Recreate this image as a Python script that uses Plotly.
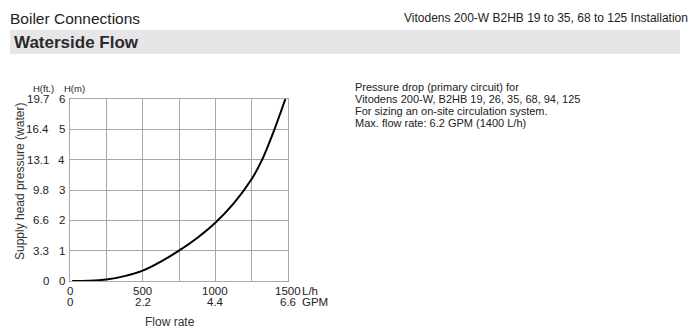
import plotly.graph_objects as go

# Data
flow_lh = [15, 130, 250, 375, 500, 625, 750, 875, 1000, 1125, 1250, 1322, 1407, 1482]
head_m = [0.0, 0.01, 0.05, 0.16, 0.34, 0.64, 1.0, 1.42, 1.92, 2.55, 3.36, 4.0, 5.0, 6.0]

x_ticks = [0, 500, 1000, 1500]
x_tick_lh = ["0", "500", "1000", "1500"]
x_tick_gpm = ["0", "2.2", "4.4", "6.6"]
y_ticks = [0, 1, 2, 3, 4, 5, 6]
y_tick_m = ["0", "1", "2", "3", "4", "5", "6"]
y_tick_ft = ["0", "3.3", "6.6", "9.8", "13.1", "16.4", "19.7"]

note_lines = [
    "Pressure drop (primary circuit) for",
    "Vitodens 200-W, B2HB 19, 26, 35, 68, 94, 125",
    "For sizing an on-site circulation system.",
    "Max. flow rate: 6.2 GPM (1400 L/h)",
]

FONT = "Liberation Sans, Arial, sans-serif"
TXT = "#222222"
GRID = "#a8a8a8"

W, H = 699, 335
PL, PR, PT, PB = 70, 288, 99, 281  # plot area in pixels
PW, PH = PR - PL, PB - PT


def px(x):
    return (x - PL) / PW


def py(y):
    return (PB - y) / PH


fig = go.Figure()
fig.add_trace(go.Scatter(x=flow_lh, y=head_m, mode="lines",
                         line=dict(color="black", width=2, shape="spline", smoothing=0.8),
                         hoverinfo="skip", showlegend=False))

fig.update_layout(
    width=W, height=H, autosize=False,
    margin=dict(l=PL, r=W - PR, t=PT, b=H - PB, pad=0),
    paper_bgcolor="white", plot_bgcolor="white",
    font=dict(family=FONT, color=TXT, size=11),
    showlegend=False,
    xaxis=dict(range=[0, 1500], dtick=250, tick0=0, showgrid=True, gridcolor=GRID, gridwidth=1,
               showline=True, linecolor=GRID, linewidth=1, mirror=True,
               showticklabels=False, ticks="", zeroline=False, fixedrange=True),
    yaxis=dict(range=[0, 6], dtick=1, tick0=0, showgrid=True, gridcolor=GRID, gridwidth=1,
               showline=True, linecolor=GRID, linewidth=1, mirror=True,
               showticklabels=False, ticks="", zeroline=False, fixedrange=True),
)

ann = []
# x tick labels (two rows)
for v, a, b in zip(x_ticks, x_tick_lh, x_tick_gpm):
    ann.append(dict(x=v, y=0, xref="x", yref="paper", text=a, showarrow=False,
                    xanchor="center", yanchor="middle", yshift=-10, font=dict(size=11.5, color=TXT)))
    ann.append(dict(x=v, y=0, xref="x", yref="paper", text=b, showarrow=False,
                    xanchor="center", yanchor="middle", yshift=-21, font=dict(size=11.5, color=TXT)))
ann.append(dict(x=1500, y=0, xref="x", yref="paper", text="L/h", showarrow=False,
                xanchor="left", yanchor="middle", xshift=12, yshift=-10, font=dict(size=11.5, color=TXT)))
ann.append(dict(x=1500, y=0, xref="x", yref="paper", text="GPM", showarrow=False,
                xanchor="left", yanchor="middle", xshift=12, yshift=-21, font=dict(size=11.5, color=TXT)))
ann.append(dict(x=px(170), y=py(322), xref="paper", yref="paper", text="Flow rate", showarrow=False,
                xanchor="center", yanchor="middle", font=dict(size=12, color="#333333")))

# y tick labels (two columns)
for v, m, ft in zip(y_ticks, y_tick_m, y_tick_ft):
    ann.append(dict(x=0, y=v, xref="paper", yref="y", text=m, showarrow=False,
                    xanchor="right", yanchor="middle", xshift=-3, font=dict(size=11.5, color=TXT)))
    ann.append(dict(x=0, y=v, xref="paper", yref="y", text=ft, showarrow=False,
                    xanchor="right", yanchor="middle", xshift=-19, font=dict(size=11.5, color=TXT)))
ann.append(dict(x=px(56), y=py(88), xref="paper", yref="paper", text="H(ft.)", showarrow=False,
                xanchor="right", yanchor="middle", font=dict(size=9.5, color=TXT)))
ann.append(dict(x=px(62), y=py(88), xref="paper", yref="paper", text="H(m)", showarrow=False,
                xanchor="left", yanchor="middle", font=dict(size=9.5, color=TXT)))
ann.append(dict(x=px(20), y=py(182), xref="paper", yref="paper", text="Supply head pressure (water)",
                showarrow=False, textangle=-90, xanchor="center", yanchor="middle",
                font=dict(size=12, color="#333333")))

# header
ann.append(dict(x=px(8), y=py(18), xref="paper", yref="paper", text="Boiler Connections",
                showarrow=False, xanchor="left", yanchor="middle", font=dict(size=15.5, color="#222222")))
ann.append(dict(x=px(690), y=py(18), xref="paper", yref="paper",
                text="Vitodens 200-W B2HB 19 to 35, 68 to 125 Installation",
                showarrow=False, xanchor="right", yanchor="middle", font=dict(size=12, color="#222222")))
ann.append(dict(x=px(12), y=py(42), xref="paper", yref="paper", text="<b>Waterside Flow</b>",
                showarrow=False, xanchor="left", yanchor="middle", font=dict(size=17, color="#2a2a2a")))

# notes
for i, line in enumerate(note_lines):
    ann.append(dict(x=px(353), y=py(87 + 12 * i), xref="paper", yref="paper", text=line,
                    showarrow=False, xanchor="left", yanchor="middle", font=dict(size=11, color=TXT)))

fig.update_layout(annotations=ann)

fig.add_shape(type="rect", xref="paper", yref="paper",
              x0=px(10), x1=px(680), y0=py(30), y1=py(54),
              fillcolor="#e6e6e8", line=dict(width=0), layer="below")

fig.write_html("out.html")
